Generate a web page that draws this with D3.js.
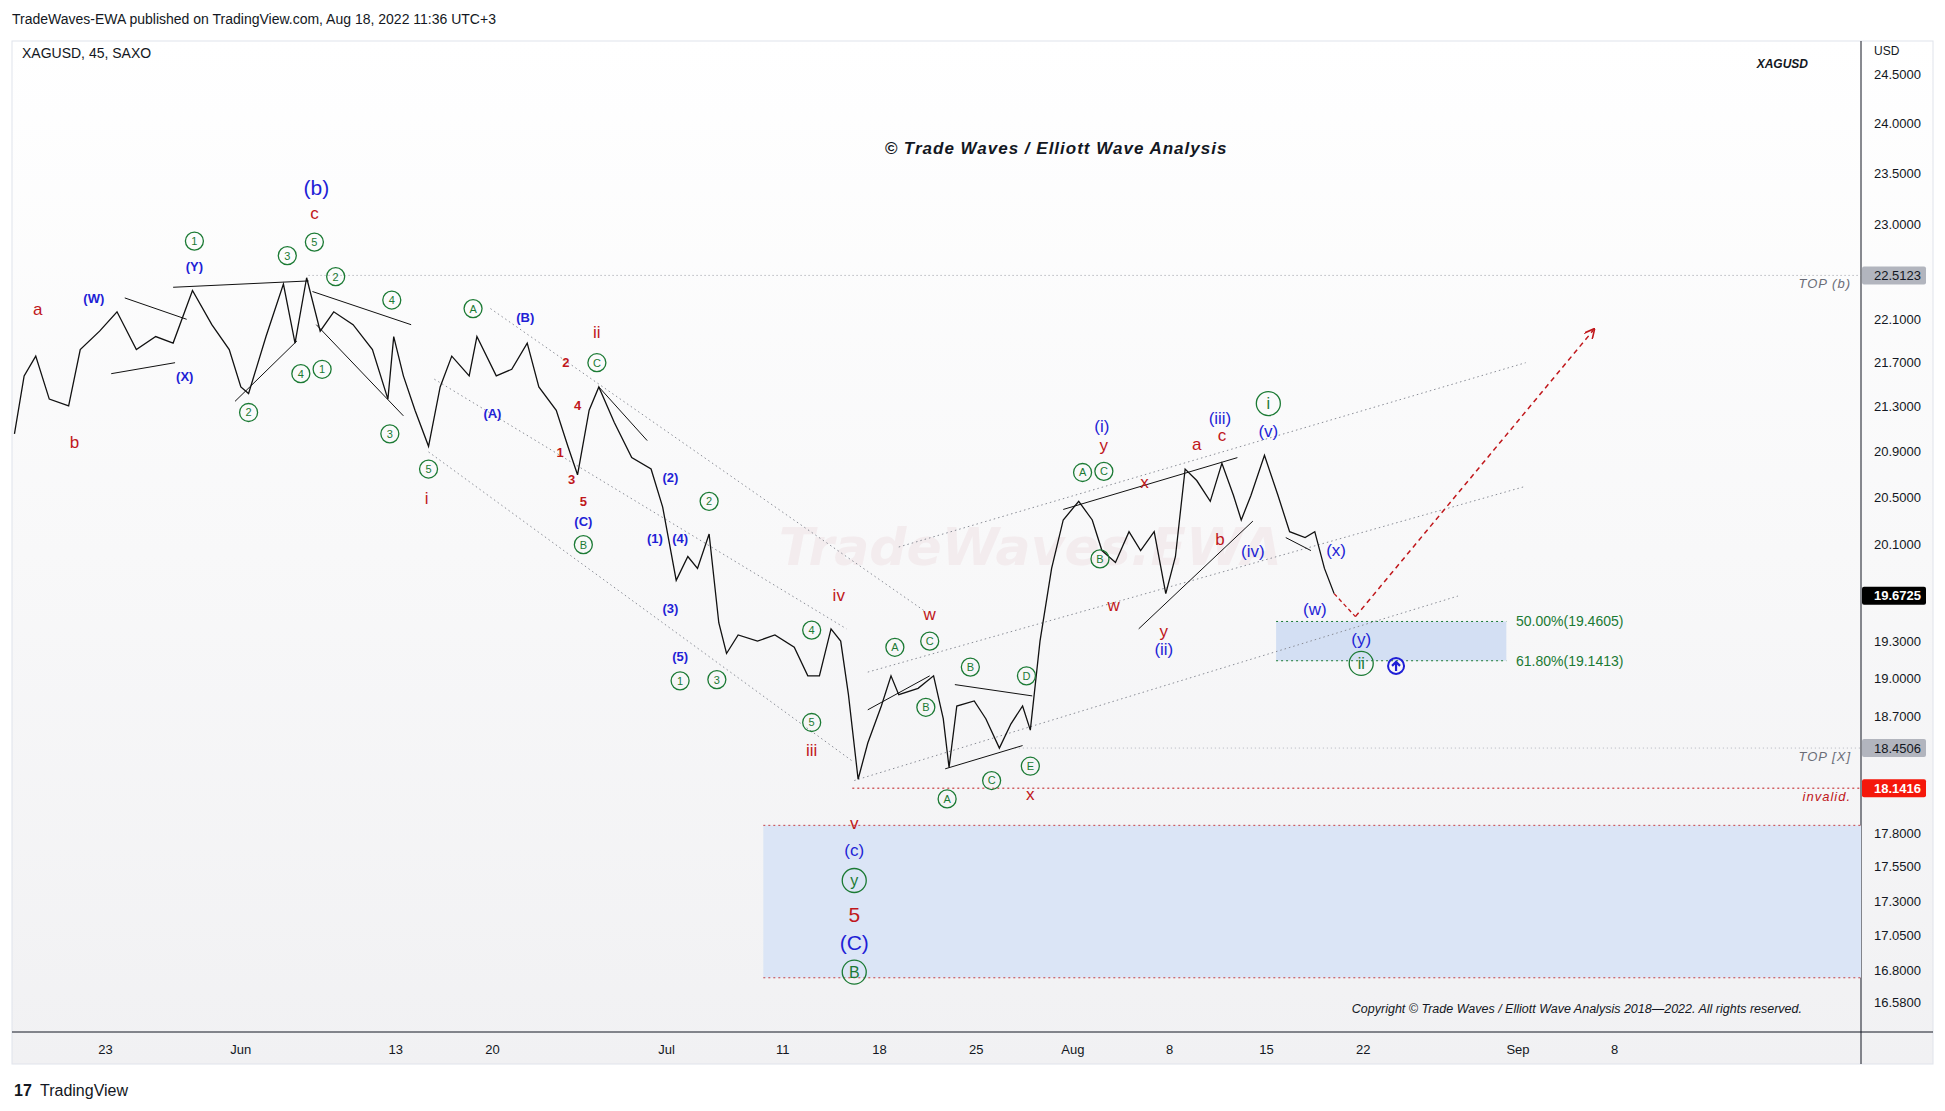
<!DOCTYPE html>
<html><head><meta charset="utf-8">
<script src="https://cdn.jsdelivr.net/npm/d3@7"></script>
<style>body{margin:0;background:#fff;font-family:"Liberation Sans",Arial,sans-serif}</style>
</head><body>
<svg id="c" width="1945" height="1111"></svg>
<script>
// ---- DATA ----
const dayIdx = [-4.7,-4.2,-3.6,-2.9,-1.9,-1.3,-0.3,0.6,1.6,2.6,3.5,4.5,5.5,6.4,7.0,7.4,8.3,9.2,9.8,10.4,11.1,11.8,12.8,13.8,14.6,14.9,15.4,16.0,16.7,17.3,17.9,18.8,19.2,20.2,21.0,21.8,22.4,23.3,23.9,24.4,25.0,25.5,26.3,27.2,28.2,28.8,29.5,30.1,30.6,31.2,31.7,32.1,32.7,33.7,34.6,35.6,36.3,36.9,37.5,38.0,38.4,38.9,39.4,40.1,40.6,41.0,42.0,42.8,43.3,43.6,44.0,44.9,45.5,46.2,46.8,47.4,47.8,48.3,48.9,49.5,50.3,51.0,51.5,52.2,52.9,53.5,54.2,54.8,55.3,55.8,56.4,57.1,57.7,58.3,58.7,59.2,59.9,60.6,61.2,62.0,62.5,63.0,63.5];
const price = [21.06,21.58,21.76,21.37,21.31,21.82,21.99,22.17,21.82,21.94,21.88,22.37,22.05,21.82,21.48,21.42,21.94,22.43,21.88,22.49,21.99,22.17,22.05,21.82,21.37,21.94,21.58,21.27,20.95,21.48,21.76,21.58,21.94,21.58,21.64,21.88,21.48,21.27,20.95,20.70,21.27,21.48,21.16,20.85,20.75,20.42,19.80,20.00,19.90,20.19,19.45,19.20,19.35,19.30,19.35,19.25,19.02,19.02,19.40,19.30,18.87,18.21,18.49,18.78,19.02,18.87,18.92,19.02,18.68,18.30,18.78,18.82,18.68,18.45,18.64,18.78,18.59,19.30,19.90,20.31,20.47,20.31,20.05,19.95,20.21,20.05,20.21,19.69,20.00,20.75,20.65,20.47,20.80,20.52,20.31,20.52,20.87,20.52,20.21,20.16,20.21,19.90,19.69];
const yTicks = [24.5,24.0,23.5,23.0,22.1,21.7,21.3,20.9,20.5,20.1,19.3,19.0,18.7,17.8,17.55,17.3,17.05,16.8,16.58];
const xTickIdx = [0,7,15,20,29,35,40,45,50,55,60,65,73,78];
const xTickLbl = ["23","Jun","13","20","Jul","11","18","25","Aug","8","15","22","Sep","8"];
const levels = {topB:22.5123, last:19.6725, topX:18.4506, invalid:18.1416, fib50:19.4605, fib618:19.1413, zoneHi:17.86, zoneLo:16.75};
// annotations: [dayIndex, price, text, kind]
const anno = [
[-3.5,22.2,"a","r"],[-1.6,20.99,"b","r"],[-0.6,22.3,"(W)","bs"],[4.1,21.58,"(X)","bs"],[4.6,22.6,"(Y)","bs"],
[4.6,22.84,"1","g"],[9.4,22.7,"3","g"],[10.8,22.83,"5","g"],[10.9,23.36,"(b)","B"],[10.8,23.11,"c","r"],
[11.9,22.5,"2","g"],[14.8,22.28,"4","g"],[10.1,21.6,"4","g"],[11.2,21.64,"1","g"],[7.4,21.25,"2","g"],
[14.7,21.06,"3","g"],[16.7,20.75,"5","g"],[16.6,20.5,"i","r"],[19.0,22.2,"A","g"],[21.7,22.12,"(B)","bs"],
[25.4,21.98,"ii","r"],[25.4,21.7,"C","g"],[23.8,21.7,"2","rs"],[24.4,21.31,"4","rs"],[23.5,20.9,"1","rs"],
[24.1,20.66,"3","rs"],[24.7,20.47,"5","rs"],[20.0,21.24,"(A)","bs"],[24.7,20.3,"(C)","bs"],[24.7,20.1,"B","g"],
[28.4,20.15,"(1)","bs"],[29.2,20.68,"(2)","bs"],[29.7,20.15,"(4)","bs"],[29.2,19.57,"(3)","bs"],[31.2,20.47,"2","g"],
[29.7,19.18,"(5)","bs"],[29.7,18.98,"1","g"],[31.6,18.99,"3","g"],[36.5,19.39,"4","g"],[37.9,19.68,"iv","r"],
[36.5,18.65,"5","g"],[36.5,18.44,"iii","r"],[38.7,17.88,"v","r"],[38.7,17.68,"(c)","b"],[38.7,17.45,"y","G"],
[38.7,17.2,"5","R"],[38.7,17.0,"(C)","B"],[38.7,16.79,"B","G"],[40.8,19.25,"A","g"],[42.6,19.3,"C","g"],
[42.6,19.52,"w","r"],[44.7,19.09,"B","g"],[42.4,18.77,"B","g"],[43.5,18.06,"A","g"],[45.8,18.2,"C","g"],
[47.8,18.31,"E","g"],[47.8,18.1,"x","r"],[47.6,19.02,"D","g"],[50.5,20.72,"A","g"],[51.6,20.73,"C","g"],
[51.6,20.96,"y","r"],[51.5,21.13,"(i)","b"],[53.7,20.64,"x","r"],[51.4,19.98,"B","g"],[52.1,19.6,"w","r"],
[54.7,19.38,"y","r"],[54.7,19.24,"(ii)","b"],[56.4,20.97,"a","r"],[57.7,21.05,"c","r"],[57.6,21.2,"(iii)","b"],
[60.1,21.33,"i","G"],[60.1,21.09,"(v)","b"],[57.6,20.15,"b","r"],[59.3,20.05,"(iv)","b"],[63.6,20.06,"(x)","b"],
[62.5,19.56,"(w)","b"],[64.9,19.32,"(y)","b"],[64.9,19.12,"ii","G"]
];
// trend lines [i1,p1,i2,p2]
const solidLines = [[1,22.3,4.2,22.1],[0.3,21.6,3.6,21.7],[3.5,22.4,10.5,22.46],[6.7,21.35,9.9,21.9],[10.7,22.36,15.8,22.05],
[10.9,22.05,15.4,21.22],[25.5,21.48,28.0,21.0],[39.4,18.75,42.6,19.02],[43.9,18.95,47.9,18.86],[43.4,18.29,47.4,18.47],
[49.5,20.4,58.5,20.85],[53.4,19.4,59.3,20.3],[61.0,20.16,62.3,20.05]];
const dotLines = [[19.9,22.2,42.3,19.55],[17.0,21.55,38.3,19.4],[16.7,20.9,38.6,18.35],[41.0,20.08,73.4,21.7],[39.4,19.05,73.4,20.6],[38.7,18.2,69.9,19.67]];

// ---- SCALES ----
const svg = d3.select("#c");
const L=12, T=41, R=1861, B=1032;
const x = d3.scaleLinear().domain([0,1]).range([105.4,124.75]);
const y = d3.scaleLog().domain([24.5,16.58]).range([74.4,1002]);
const red="#c0171b", blue="#1f1fd6", green="#1b7a34";

const defs = svg.append("defs");
const g1 = defs.append("linearGradient").attr("id","bg").attr("x1",0).attr("x2",0).attr("y1",0).attr("y2",1);
g1.append("stop").attr("offset","0").attr("stop-color","#ffffff");
g1.append("stop").attr("offset","1").attr("stop-color","#f1f1f3");
defs.append("clipPath").attr("id","clip").append("rect").attr("x",L).attr("y",T).attr("width",R-L).attr("height",B-T);
const mk = defs.append("marker").attr("id","arr").attr("viewBox","0 0 10 10").attr("refX",8).attr("refY",5).attr("markerWidth",7).attr("markerHeight",7).attr("orient","auto");
mk.append("path").attr("d","M0,0 L10,5 L0,10").attr("fill","none").attr("stroke",red).attr("stroke-width",1.5);

svg.append("rect").attr("x",L).attr("y",T).attr("width",1933-L).attr("height",1064-T).attr("fill","url(#bg)").attr("stroke","#e0e3eb");
svg.append("line").attr("x1",R).attr("x2",R).attr("y1",T).attr("y2",1064).attr("stroke","#131722");
svg.append("line").attr("x1",L).attr("x2",1933).attr("y1",B).attr("y2",B).attr("stroke","#131722");

const P = svg.append("g").attr("clip-path","url(#clip)");
const zx = 34.0;
P.append("rect").attr("x",x(zx)).attr("width",R-x(zx)).attr("y",y(levels.zoneHi)).attr("height",y(levels.zoneLo)-y(levels.zoneHi)).attr("fill","#dbe5f6");
[levels.zoneHi,levels.zoneLo].forEach(v=>P.append("line").attr("x1",x(zx)).attr("x2",R).attr("y1",y(v)).attr("y2",y(v)).attr("stroke",red).attr("stroke-dasharray","2,3").attr("stroke-width",0.8));
P.append("rect").attr("x",x(60.5)).attr("width",x(72.4)-x(60.5)).attr("y",y(levels.fib50)).attr("height",y(levels.fib618)-y(levels.fib50)).attr("fill","#d3dff3");
[levels.fib50,levels.fib618].forEach(v=>P.append("line").attr("x1",x(60.5)).attr("x2",x(72.4)).attr("y1",y(v)).attr("y2",y(v)).attr("stroke",green).attr("stroke-dasharray","2,3"));
P.append("line").attr("x1",x(10.5)).attr("x2",R).attr("y1",y(levels.topB)).attr("y2",y(levels.topB)).attr("stroke","#9598a1").attr("stroke-dasharray","1,3");
P.append("line").attr("x1",x(47)).attr("x2",R).attr("y1",y(levels.topX)).attr("y2",y(levels.topX)).attr("stroke","#b2b5be").attr("stroke-dasharray","1,3");
P.append("line").attr("x1",x(38.6)).attr("x2",R).attr("y1",y(levels.invalid)).attr("y2",y(levels.invalid)).attr("stroke",red).attr("stroke-dasharray","2,3");
// watermark
P.append("text").attr("x",x(34.8)).attr("y",y(20.1)+20).attr("font-size",52).attr("font-style","italic").attr("font-weight","bold").attr("fill","#f3ecee").attr("font-family","DejaVu Sans").text("TradeWaves.EWA");
dotLines.forEach(d=>P.append("line").attr("x1",x(d[0])).attr("y1",y(d[1])).attr("x2",x(d[2])).attr("y2",y(d[3])).attr("stroke","#8a8d96").attr("stroke-dasharray","1.5,3"));
const n = Math.min(dayIdx.length, price.length);
P.append("path").datum(d3.range(n).map(i=>[dayIdx[i],price[i]])).attr("d",d3.line().x(d=>x(d[0])).y(d=>y(d[1]))).attr("fill","none").attr("stroke","#111").attr("stroke-width",1.3);
solidLines.forEach(d=>P.append("line").attr("x1",x(d[0])).attr("y1",y(d[1])).attr("x2",x(d[2])).attr("y2",y(d[3])).attr("stroke","#111").attr("stroke-width",1));
P.append("line").attr("x1",x(63.5)).attr("y1",y(19.69)).attr("x2",x(64.6)).attr("y2",y(19.5)).attr("stroke",red).attr("stroke-dasharray","4,3").attr("stroke-width",1.3);
P.append("line").attr("x1",x(64.6)).attr("y1",y(19.5)).attr("x2",x(76.9)).attr("y2",y(22.0)).attr("stroke",red).attr("stroke-dasharray","5,4").attr("stroke-width",1.5).attr("marker-end","url(#arr)");
const ua=P.append("g").attr("transform",`translate(${x(66.7)},${y(19.1)})`);
ua.append("circle").attr("r",8).attr("fill","none").attr("stroke",blue).attr("stroke-width",2);
ua.append("path").attr("d","M0,5 L0,-4 M-4,0 L0,-4 L4,0").attr("stroke",blue).attr("stroke-width",2.2).attr("fill","none");

anno.forEach(a=>{
  const cx=x(a[0]), cy=y(a[1]), k=a[3];
  if(k==="g"||k==="G"){
    const r = k==="G"?12:9;
    P.append("circle").attr("cx",cx).attr("cy",cy).attr("r",r).attr("fill","none").attr("stroke",green).attr("stroke-width",1.3);
    P.append("text").attr("x",cx).attr("y",cy).attr("dy","0.36em").attr("text-anchor","middle").attr("font-size",k==="G"?16:11).attr("fill",green).text(a[2]);
  } else {
    const col = (k[0]==="r"||k==="R")?red:blue;
    const fs = (k==="B"||k==="R")?21:(k.length>1&&k[1]==="s"?13:17);
    P.append("text").attr("x",cx).attr("y",cy).attr("dy","0.36em").attr("text-anchor","middle").attr("font-size",fs).attr("fill",col).attr("font-weight",k.length>1?"bold":"normal").text(a[2]);
  }
});

[[levels.fib50,"50.00%(19.4605)"],[levels.fib618,"61.80%(19.1413)"]].forEach(d=>
  svg.append("text").attr("x",x(72.9)).attr("y",y(d[0])).attr("dy","0.35em").attr("font-size",14).attr("fill",green).text(d[1]));
[["TOP (b)",levels.topB,"#6a6d78"],["TOP [X]",levels.topX,"#6a6d78"],["invalid.",levels.invalid,red]].forEach(d=>
  svg.append("text").attr("x",R-10).attr("y",y(d[1])+13).attr("text-anchor","end").attr("font-size",13).attr("font-style","italic").attr("letter-spacing",1).attr("fill",d[2]).text(d[0]));

yTicks.forEach(t=>svg.append("text").attr("x",1874).attr("y",y(t)).attr("dy","0.35em").attr("font-size",13).attr("fill","#131722").text(t.toFixed(4)));
[[levels.topB,"#b2b5be","#131722"],[levels.last,"#000","#fff"],[levels.topX,"#b2b5be","#131722"],[levels.invalid,"#f5180b","#fff"]].forEach(d=>{
  svg.append("rect").attr("x",R+1).attr("y",y(d[0])-9).attr("width",64).attr("height",18).attr("rx",2).attr("fill",d[1]);
  svg.append("text").attr("x",1874).attr("y",y(d[0])).attr("dy","0.35em").attr("font-size",13).attr("font-weight",d[1]==="#b2b5be"?"normal":"bold").attr("fill",d[2]).text(d[0].toFixed(4));
});
svg.append("text").attr("x",1874).attr("y",55).attr("font-size",12).attr("fill","#131722").text("USD");
xTickIdx.forEach((t,i)=>svg.append("text").attr("x",x(t)).attr("y",1054).attr("text-anchor","middle").attr("font-size",13).attr("fill","#131722").text(xTickLbl[i]));

svg.append("text").attr("x",12).attr("y",24).attr("font-size",14).attr("fill","#131722").text("TradeWaves-EWA published on TradingView.com, Aug 18, 2022 11:36 UTC+3");
svg.append("text").attr("x",22).attr("y",58).attr("font-size",14).attr("fill","#131722").text("XAGUSD, 45, SAXO");
svg.append("text").attr("x",1808).attr("y",68).attr("text-anchor","end").attr("font-size",12).attr("font-style","italic").attr("font-weight","bold").attr("fill","#131722").text("XAGUSD");
svg.append("text").attr("x",1056).attr("y",154).attr("text-anchor","middle").attr("font-size",17).attr("font-style","italic").attr("font-weight","bold").attr("letter-spacing",1).attr("fill","#131722").text("© Trade Waves / Elliott Wave Analysis");
svg.append("text").attr("x",1802).attr("y",1013).attr("text-anchor","end").attr("font-size",12.5).attr("font-style","italic").attr("fill","#131722").text("Copyright © Trade Waves / Elliott Wave Analysis 2018—2022. All rights reserved.");
svg.append("text").attr("x",14).attr("y",1096).attr("font-size",16).attr("font-weight","bold").attr("fill","#131722").text("17");
svg.append("text").attr("x",40).attr("y",1096).attr("font-size",16).attr("fill","#131722").text("TradingView");
</script>
</body></html>
